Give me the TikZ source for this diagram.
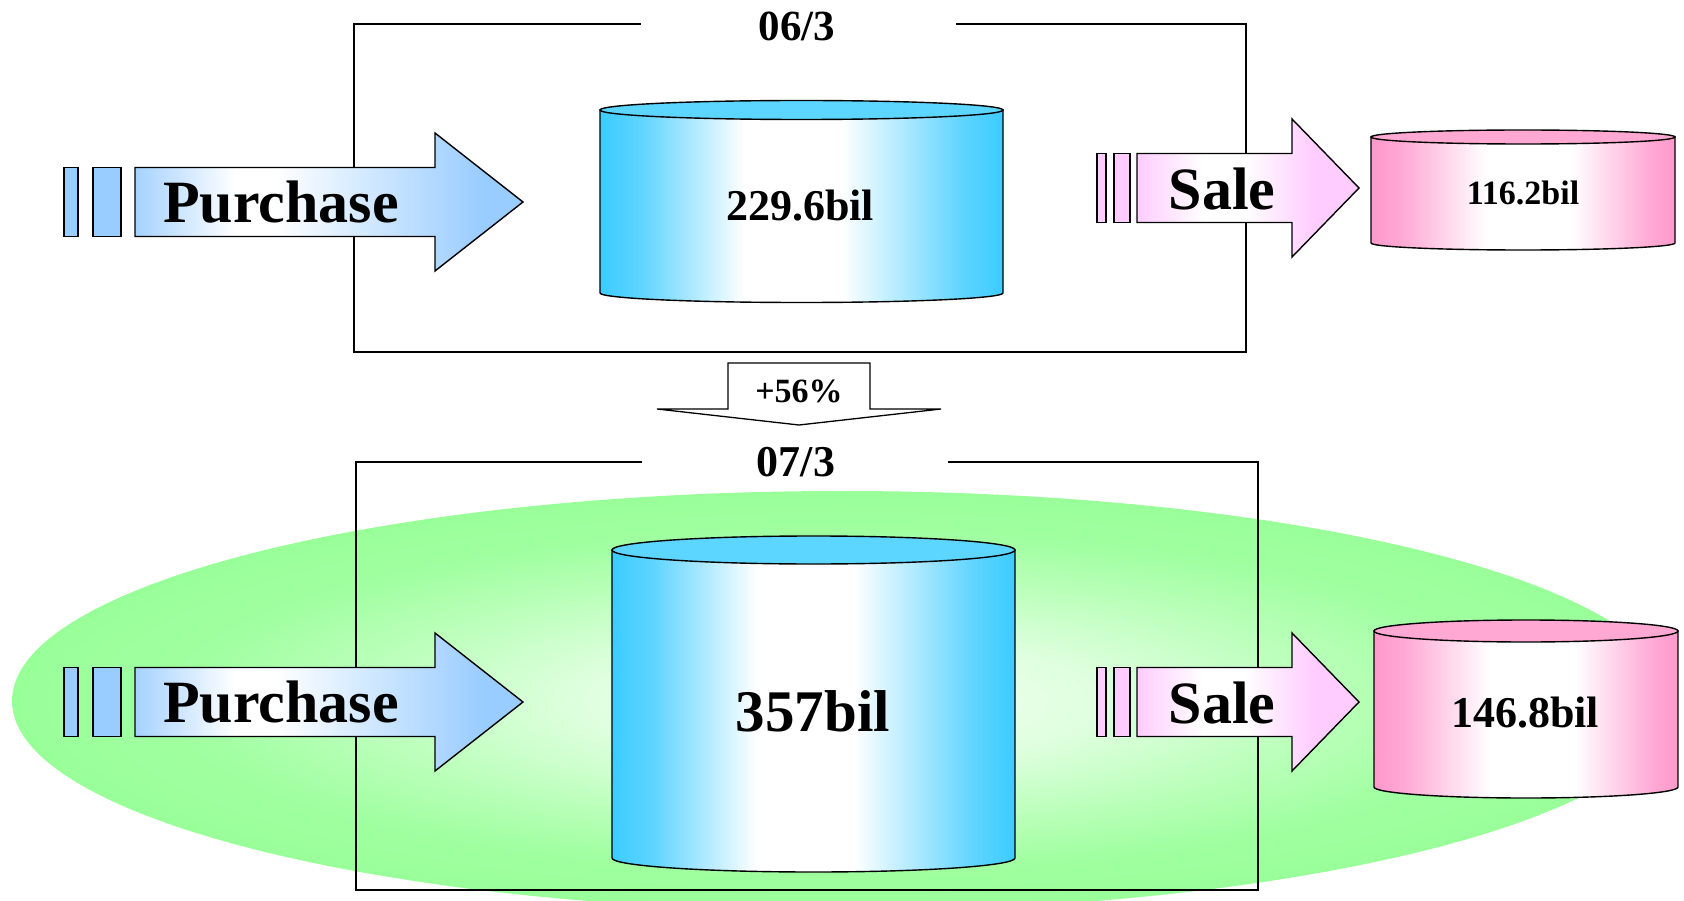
\documentclass[tikz,border=0pt]{standalone}
\usepackage{fontspec}
\setmainfont{Liberation Serif}
\definecolor{cbA}{HTML}{3BCCFF}
\definecolor{cbB}{HTML}{5ED4FF}
\definecolor{cbTop}{HTML}{5CD6FF}
\definecolor{cpA}{HTML}{FF99CC}
\definecolor{cpB}{HTML}{FFA8D4}
\definecolor{cpTop}{HTML}{FFA8D3}
\definecolor{abA}{HTML}{A6D2FF}
\definecolor{abB}{HTML}{99CCFF}
\definecolor{apA}{HTML}{FFCCFF}
\definecolor{gA}{HTML}{F4FFF4}
\definecolor{gB}{HTML}{E0FFE0}
\definecolor{gC}{HTML}{B8FFB8}
\definecolor{gD}{HTML}{A0FFA0}
\definecolor{gE}{HTML}{99FF99}
\pgfdeclarehorizontalshading{cylblue}{100bp}{color(0bp)=(cbA); color(25bp)=(cbA); color(30bp)=(cbB); color(43bp)=(white); color(55bp)=(white); color(70bp)=(cbB); color(75bp)=(cbA); color(100bp)=(cbA)}
\pgfdeclarehorizontalshading{cylpink}{100bp}{color(0bp)=(cpA); color(25bp)=(cpA); color(30bp)=(cpB); color(44bp)=(white); color(58bp)=(white); color(71bp)=(cpB); color(75bp)=(cpA); color(100bp)=(cpA)}
\pgfdeclarehorizontalshading{arrblue}{100bp}{color(0bp)=(abA); color(25bp)=(abA); color(38bp)=(white); color(43bp)=(white); color(70bp)=(abB); color(75bp)=(abB); color(100bp)=(abB)}
\pgfdeclarehorizontalshading{arrpink}{100bp}{color(0bp)=(apA); color(25bp)=(apA); color(40bp)=(white); color(49bp)=(white); color(65bp)=(apA); color(75bp)=(apA); color(100bp)=(apA)}
\pgfdeclareradialshading{greenglow}{\pgfpoint{0bp}{0bp}}{color(0bp)=(gA); color(7.5bp)=(gB); color(15bp)=(gC); color(20bp)=(gD); color(25bp)=(gE); color(50bp)=(gE)}
\tikzset{
  frameline/.style={line width=1.6pt, draw=black},
  outl/.style={line width=1.4pt, draw=black},
  bigtxt/.style={font=\bfseries\fontsize{60}{62}\selectfont, inner sep=0pt},
  valtxt/.style={font=\bfseries\fontsize{44}{46}\selectfont, inner sep=0pt},
}
\newcommand{\cylshape}[7]{%
  \pgfmathsetmacro\rxx{(#2-#1)/2}%
  \pgfmathsetmacro\cxx{(#2+#1)/2}%
  \path[shading=#6, outl] (#1,#3) -- (#1,#4) arc[start angle=180, end angle=0, x radius=\rxx, y radius=#5] -- (#2,#3) -- cycle;
  \path[fill=#7, outl] (\cxx,#3) ellipse [x radius=\rxx, y radius=#5];
}
\newcommand{\buyarrow}[1]{%
  \path[fill=abB, outl] (64,{#1-34.5}) rectangle (78,{#1+34.5});
  \path[fill=abB, outl] (93,{#1-34.5}) rectangle (121,{#1+34.5});
  \path[shading=arrblue, outl] (135,{#1-34.5}) -- (435,{#1-34.5}) -- (435,{#1-69}) -- (523,#1) -- (435,{#1+69}) -- (435,{#1+34.5}) -- (135,{#1+34.5}) -- cycle;
}
\newcommand{\sellarrow}[1]{%
  \path[fill=apA, outl] (1097,{#1-34.5}) rectangle (1106,{#1+34.5});
  \path[fill=apA, outl] (1114,{#1-34.5}) rectangle (1130,{#1+34.5});
  \path[shading=arrpink, outl] (1137,{#1-34.5}) -- (1292,{#1-34.5}) -- (1292,{#1-69}) -- (1359,#1) -- (1292,{#1+69}) -- (1292,{#1+34.5}) -- (1137,{#1+34.5}) -- cycle;
}
\begin{document}
\begin{tikzpicture}[x=1pt, y=-1pt]
\useasboundingbox (0,0) rectangle (1684,901);
\fill[white] (0,0) rectangle (1684,901);
% green glow
\path[shading=greenglow] (842,701) ellipse [x radius=830, y radius=210];
% frames
\draw[frameline] (641,24) -- (354,24) -- (354,352) -- (1246,352) -- (1246,24) -- (956,24);
\draw[frameline] (642,462) -- (356,462) -- (356,890) -- (1258,890) -- (1258,462) -- (948,462);
% cylinders
\cylshape{600}{1003}{110}{293}{9.5}{cylblue}{cbTop}
\cylshape{1371}{1675}{137}{243}{7}{cylpink}{cpTop}
\cylshape{612}{1015}{550}{858}{14}{cylblue}{cbTop}
\cylshape{1374}{1678}{631}{787}{11}{cylpink}{cpTop}
% arrows
\buyarrow{202}
\buyarrow{702}
\sellarrow{188}
\sellarrow{702}
% growth arrow
\path[fill=white, line width=1.3pt, draw=black] (728,363) -- (870,363) -- (870,409) -- (941,409) -- (799,425) -- (657,409) -- (728,409) -- cycle;
% texts
\node[font=\bfseries\fontsize{43}{45}\selectfont, inner sep=0pt] (lab06) at (797,26) {06/3};
\node[font=\bfseries\fontsize{44}{46}\selectfont, inner sep=0pt] (lab07) at (796,462) {07/3};
\node[font=\bfseries\fontsize{34}{36}\selectfont, inner sep=0pt] (grow) at (799,391) {+56\%};
\node[bigtxt] (buy1) at (281,202) {Purchase};
\node[bigtxt] (buy2) at (281,702) {Purchase};
\node[bigtxt] (sell1) at (1222,189) {Sale};
\node[bigtxt] (sell2) at (1222,703) {Sale};
\node[valtxt] (inv1) at (800,206) {229.6bil};
\node[font=\bfseries\fontsize{59}{61}\selectfont, inner sep=0pt] (inv2) at (813,711) {357bil};
\node[font=\bfseries\fontsize{34}{36}\selectfont, inner sep=0pt] (s1) at (1523,193) {116.2bil};
\node[valtxt] (s2) at (1525,713) {146.8bil};
\end{tikzpicture}
\end{document}
